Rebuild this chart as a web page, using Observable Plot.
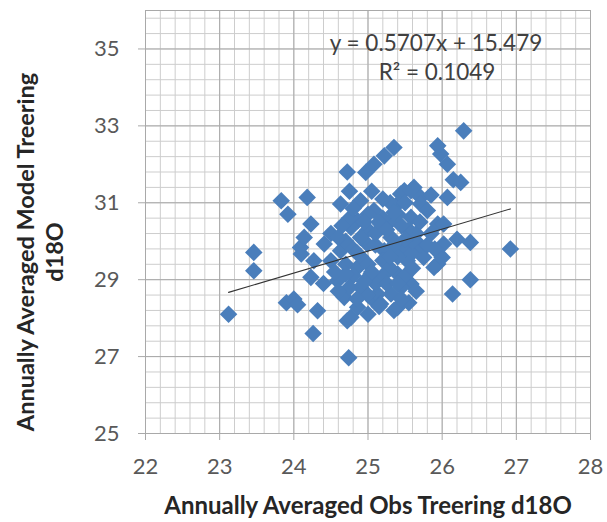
<!DOCTYPE html>
<html><head><meta charset="utf-8">
<script src="https://cdn.jsdelivr.net/npm/d3@7"></script>
<script src="https://cdn.jsdelivr.net/npm/@observablehq/plot@0.6"></script>
<style>body{margin:0;background:#fff}svg{display:block}</style>
</head><body><div id="chart"></div>
<script>
const obsX = [23.12,23.46,23.46,23.83,23.92,23.90,24.00,24.05,24.10,24.09,24.14,24.18,24.23,24.27,24.23,24.26,24.32,24.41,24.50,24.50,
24.59,24.63,24.63,24.68,24.72,24.74,24.77,24.86,24.72,24.97,24.90,24.86,24.77,24.99,24.86,25.04,25.08,25.13,25.17,25.35,
25.40,25.31,25.58,25.40,25.53,25.22,25.31,25.31,25.17,25.08,25.40,25.44,25.49,25.62,25.58,25.71,25.71,25.58,25.94,26.02,
26.20,26.38,26.92,26.38,26.14,25.94,25.89,26.00,25.75,26.02,26.07,26.15,26.25,26.07,25.98,25.94,26.29,25.35,25.22,25.08,
24.70,24.80,24.90,25.00,24.70,24.80,24.90,25.00,24.75,25.10,25.20,25.30,25.20,25.10,25.25,25.45,25.50,25.60,25.50,25.40,
25.60,25.70,25.65,25.55,25.45,25.40,25.20,25.00,25.00,24.90,24.75,24.65,24.60,25.10,25.30,25.20,25.05,25.50,25.80,25.85,
25.80,25.90,25.85,25.65,25.55,24.85,24.60,24.55,24.40,24.75,25.00,25.45,
24.95,25.15,25.35,25.25,24.85,25.05,25.30,25.60,25.70,24.95,25.15,25.40,24.80,25.50,25.35,24.70];
const modelY = [28.10,29.71,29.23,31.05,30.70,28.40,28.50,28.35,29.67,29.84,30.10,31.14,30.45,29.49,29.06,27.60,28.19,29.93,30.20,29.49,
28.97,29.75,30.97,28.54,27.93,26.97,28.02,28.28,31.80,31.79,31.05,30.53,30.36,29.93,29.32,29.15,28.45,28.63,28.37,28.20,
28.28,28.63,28.89,29.15,29.49,29.75,30.10,30.53,30.45,30.80,30.97,31.23,31.31,31.40,31.31,31.14,30.97,30.62,30.45,30.45,
30.05,29.97,29.80,29.00,28.63,29.41,29.32,29.58,29.58,29.93,31.14,31.60,31.53,32.00,32.27,32.48,32.87,32.44,32.22,32.00,
30.00,29.80,29.60,29.40,29.40,29.10,28.80,28.60,28.80,29.90,29.50,29.30,29.10,28.90,28.90,28.80,29.10,29.30,29.80,29.60,
29.70,29.90,30.20,30.30,30.40,30.70,30.60,30.70,30.30,30.10,30.60,30.40,30.10,30.20,31.00,31.10,31.30,31.00,30.80,30.20,
29.90,29.80,31.20,28.70,28.40,28.50,28.70,29.20,28.90,31.30,28.10,28.50,
30.50,30.50,29.90,30.30,29.70,29.20,29.60,30.00,30.50,28.95,28.30,28.90,30.85,30.05,30.75,29.15];
const xTicks = [22,23,24,25,26,27,28];
const yTicks = [25,27,29,31,33,35];
const trendX = [23.12, 26.92];
const trendY = [28.67, 30.84];
const equationText = "y = 0.5707x + 15.479";
const r2Text = "R² = 0.1049";
const xTitle = "Annually Averaged Obs Treering d18O";
const yTitle = "Annually Averaged Model Treering\nd18O";

const points = obsX.map((x, i) => ({x, y: modelY[i]}));
const trend = trendX.map((x, i) => ({x, y: trendY[i]}));
const xMinor = d3.range(22, 28.001, 0.2);
const yMinor = d3.range(25, 36.001, 0.4);
const font = "Lato, 'Open Sans', sans-serif";

const chart = Plot.plot({
  width: 607, height: 522,
  marginLeft: 145, marginRight: 17, marginTop: 10, marginBottom: 89,
  style: {fontFamily: font, background: "#fff", overflow: "visible"},
  x: {domain: [22, 28]},
  y: {domain: [25, 36]},
  marks: [
    Plot.gridX(xMinor, {stroke: "#cdcdcd", strokeOpacity: 1}),
    Plot.gridY(yMinor, {stroke: "#cdcdcd", strokeOpacity: 1}),
    Plot.gridX(xTicks, {stroke: "#a9a9a9", strokeOpacity: 1}),
    Plot.gridY(yTicks, {stroke: "#a9a9a9", strokeOpacity: 1}),
    Plot.frame({stroke: "#a9a9a9"}),
    Plot.axisX(xTicks, {tickSize: 7, tickPadding: 18, fontSize: 22, stroke: "#a9a9a9", fill: "#595959", label: null, tickFormat: d => String(d)}),
    Plot.axisY(yTicks, {tickSize: 7, tickPadding: 19, fontSize: 22, stroke: "#a9a9a9", fill: "#595959", label: null, tickFormat: d => String(d)}),
    Plot.dot(points, {x: "x", y: "y", symbol: "diamond2", r: 7.9, fill: "#4a7ebb", stroke: "none"}),
    Plot.line(trend, {x: "x", y: "y", stroke: "#333", strokeWidth: 1.1}),
    Plot.text([equationText], {text: d => d, frameAnchor: "top", dx: 68, dy: 25, fontSize: 22.5, fill: "#404040"}),
    Plot.text([r2Text], {text: d => d, frameAnchor: "top", dx: 69, dy: 54, fontSize: 22.5, fill: "#404040"}),
    Plot.text([xTitle], {text: d => d, frameAnchor: "bottom", dy: 80, fontSize: 24, fontWeight: "bold", fill: "#262626"}),
    Plot.text([yTitle], {text: d => d, frameAnchor: "left", textAnchor: "middle", rotate: -90, dx: -106, dy: 30, fontSize: 23.5, fontWeight: "bold", fill: "#262626", lineHeight: 1.2})
  ]
});
document.getElementById("chart").appendChild(chart);
</script>
</body></html>
